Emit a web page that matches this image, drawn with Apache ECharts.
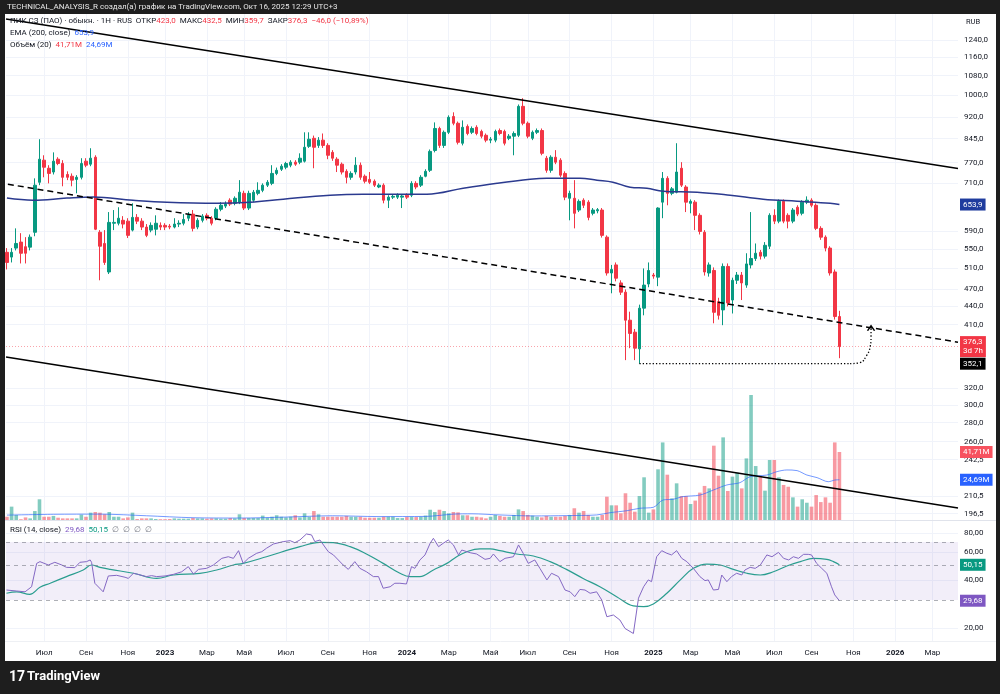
<!DOCTYPE html>
<html>
<head>
<meta charset="utf-8">
<script src="https://cdn.jsdelivr.net/npm/echarts@6/dist/echarts.min.js"></script>
<style>
  html, body { margin: 0; padding: 0; background: #1e1e1e; }
  #chart { width: 1000px; height: 694px; }
</style>
</head>
<body>
<div id="chart"></div>
<script>
// недельные свечи ПИК СЗ, первая неделя 2022-05-09
const firstWeek = '2022-05-09';

// [open, close, low, high]
const candles = [
  [543,522,508,552],[533,543,522,552],[552,562,547,596],[565,541,520,585],[555,541,520,576],
  [554,576,547,582],[587,705,578,724],[713,780,705,843],[777,756,727,792],[753,738,710,762],
  [742,774,735,801],[780,767,762,786],[767,727,702,777],[735,727,719,744],[730,719,702,738],
  [721,727,683,733],[727,767,721,783],[774,762,756,783],[765,783,759,814],[786,594,592,792],
  [587,556,487,592],[562,522,517,592],[503,610,499,635],[608,610,592,640],[608,620,603,647],
  [615,606,596,625],[613,580,574,620],[592,622,589,657],[622,613,606,630],[613,599,592,620],
  [599,580,576,606],[592,603,587,610],[594,608,580,627],[603,599,592,610],[603,599,592,608],
  [601,599,594,606],[599,606,596,620],[606,608,599,615],[608,617,603,630],[620,627,613,635],
  [630,596,589,640],[599,615,594,620],[615,625,610,630],[627,620,615,632],[620,608,603,625],
  [620,642,615,647],[642,652,637,660],[650,655,645,662],[665,655,650,670],[657,670,652,675],
  [660,686,655,719],[683,645,640,690],[645,683,640,690],[665,686,660,692],[683,691,678,713],
  [691,705,686,710],[705,713,700,719],[710,738,705,762],[738,747,733,755],[750,759,745,765],
  [756,767,750,772],[762,771,756,777],[771,765,760,777],[771,783,765,798],[774,817,770,866],
  [820,843,815,866],[846,817,753,855],[823,840,815,850],[840,823,815,862],[823,792,780,830],
  [801,783,775,808],[780,762,742,786],[765,742,735,770],[744,727,710,750],[727,738,720,744],
  [742,762,735,786],[762,727,720,770],[730,716,710,735],[721,713,708,742],[716,705,700,721],
  [700,705,697,710],[705,665,657,710],[665,673,645,678],[673,675,668,680],[673,678,668,683],
  [673,676,645,680],[678,673,668,683],[678,710,673,716],[710,700,694,716],[705,727,700,733],
  [730,744,727,750],[747,804,742,810],[807,879,801,900],[879,823,815,885],[823,866,815,872],
  [866,918,860,925],[921,897,890,936],[897,833,826,903],[830,883,823,907],[886,862,856,893],
  [866,879,860,886],[883,862,856,890],[869,853,846,875],[856,840,833,862],[840,843,830,850],
  [840,869,833,875],[872,862,856,879],[869,830,823,875],[846,853,840,860],[853,862,792,869],
  [856,958,850,965],[958,897,890,989],[897,853,846,903],[846,866,840,872],[866,872,860,879],
  [872,798,792,879],[783,747,740,790],[747,786,740,792],[786,771,765,808],[777,733,727,783],
  [738,673,665,744],[670,683,615,690],[670,632,596,719],[640,662,635,667],[665,652,645,670],
  [660,622,615,665],[632,640,627,645],[638,641,632,645],[640,580,575,645],[576,501,496,580],
  [501,508,463,517],[517,491,485,522],[482,465,460,487],[465,417,357,470],[417,396,374,431],
  [398,374,357,403],[373,437,352.1,443],[437,478,425,510],[480,506,474,522],[497,495,490,501],
  [493,645,476,647],[660,724,620,742],[724,683,652,730],[683,695,678,700],[686,742,683,830],
  [753,705,700,771],[700,660,635,705],[657,662,632,667],[660,627,592,665],[627,589,582,632],
  [587,503,496,592],[501,517,494,522],[506,430,412,512],[448,425,418,455],[434,514,409,520],
  [514,446,440,520],[451,487,428,492],[487,497,480,503],[497,482,451,503],[478,519,473,541],
  [517,530,510,635],[530,541,525,562],[543,535,528,548],[535,558,530,565],[556,627,550,632],
  [627,613,606,642],[613,662,608,667],[662,613,608,667],[627,613,596,632],[613,640,608,645],
  [647,630,625,652],[632,660,627,665],[660,665,655,675],[665,652,647,670],[652,596,592,657],
  [596,576,570,601],[576,552,545,580],[552,501,496,556],[503,423,418,508],[423,376.3,359.7,432.5]
];

// объём, млн
const volume = [
  2.0,8.2,3.1,0.5,1.6,1.0,5.5,12.7,2.0,2.0, 2.5,1.4,1.0,1.0,1.0,1.0,3.3,2.0,4.5,4.9,
  4.5,3.5,4.9,2.0,2.0,1.0,1.6,4.5,0.6,1.0, 1.0,1.0,0.6,0.5,0.5,0.6,1.0,0.8,0.8,0.8,
  1.2,1.0,1.0,0.8,1.0,1.0,0.8,0.8,1.2,1.0, 3.5,1.2,1.2,1.2,1.2,2.7,1.4,2.0,2.9,2.0,
  1.6,2.0,2.9,1.6,4.1,2.0,5.5,3.5,2.0,2.0, 2.0,2.0,2.0,2.5,2.0,2.0,2.0,1.4,1.4,1.4,
  1.4,2.0,2.0,2.0,1.2,1.2,1.8,1.8,1.8,2.0, 2.7,6.3,4.9,6.3,5.5,4.1,4.9,4.7,2.9,2.9,
  2.0,2.0,1.6,1.0,2.0,3.1,2.5,2.0,2.0,3.1, 6.5,5.5,3.1,2.7,2.0,1.6,2.5,2.0,2.0,2.0,
  2.5,3.1,7.2,4.5,5.5,3.1,2.0,2.0,3.1,14.3, 9.0,9.0,4.1,16.4,10.6,5.1,14.7,26.2,4.5,6.5,
  31.1,47.6,27.8,13.3,22.5,14.7,14.7,9.8,11.9,16.8, 20.9,19.4,45.6,27.2,50.7,17.8,26.6,29.0,19.4,37.8,
  76.7,33.1,26.6,18.0,36.8,36.8,26.2,21.5,20.4,13.9, 8.2,12.7,10.6,8.2,15.3,11.0,13.9,10.6,47.6,41.71
];

// [неделя, значение]
const volumeMa = [
  [0,3.0],[10,3.5],[20,3.6],[30,2.6],[40,1.4],[50,1.2],[60,1.8],[70,2.6],[80,2.1],[90,2.2],
  [96,3.6],[100,3.8],[106,3.1],[113.2,2.5],[120.4,2.7],[126.8,3.1],[129.7,4.5],[133.3,5.7],
  [136.1,7.2],[139,7.8],[141.1,12.3],[143.3,12.7],[145.2,14.3],[149,15.3],[151.9,18.4],
  [154.8,21.5],[157.6,22.9],[159.8,26.6],[163.4,27.6],[165.6,29.7],[167.7,30.7],[169.9,30.3],
  [172,27.6],[174.2,26.0],[176.6,23.5],[178,24.5],[179,24.69]
];

const ema200 = [
  [0,670.5],[5.6,664.9],[12.9,670.5],[18.5,673.2],[27.1,664.9],[34.4,659.7],[45.2,657.2],
  [52.3,659.7],[59.4,667.7],[69.5,678],[76.6,680.6],[90.3,680.6],[98.1,696.6],[105.4,710.3],
  [112.5,721.4],[116.1,724.2],[119.6,724.2],[123.2,724.2],[126.9,718.6],[130.3,713.1],
  [134,699.4],[137.6,696.6],[141.1,688.6],[148.4,686],[155.5,678],[162.6,667.7],
  [169.9,662.3],[177,657.2],[179,653.9]
];

const rsi = [
  [-0.1,34.7],[2.1,34.2],[3.9,33.8],[5.3,36.4],[6.4,51.2],[7.1,52.5],[8.9,50.0],[10.3,52.0],
  [11.8,50.0],[12.8,48.3],[14.6,48.1],[15.7,52.0],[17.1,52.5],[17.9,53.8],[18.2,52.0],[18.9,38.3],
  [20.7,33.8],[21.8,42.6],[23.6,43.0],[25.4,41.8],[26.1,41.1],[27.2,44.3],[28.2,43.6],[30.0,42.2],
  [31.1,42.8],[32.2,42.2],[34.0,42.6],[35.8,43.6],[37.6,45.3],[39.0,48.8],[40.1,43.8],[41.2,46.9],
  [42.9,47.6],[44.4,50.0],[46.2,55.1],[47.6,56.4],[48.7,55.1],[49.8,61.6],[50.8,51.2],[51.9,55.1],
  [53.7,59.3],[54.8,60.7],[55.8,63.8],[57.3,67.9],[59.4,70.3],[60.9,71.3],[61.9,69.2],[63.0,72.0],
  [64.4,78.6],[65.5,77.5],[66.2,70.3],[67.3,72.0],[69.1,60.7],[70.2,57.9],[72.3,50.0],[73.4,46.9],
  [74.8,52.5],[75.9,47.6],[77.3,45.3],[78.8,42.2],[79.9,42.2],[80.9,35.6],[82.4,36.4],[83.4,38.3],
  [84.5,38.3],[85.9,37.9],[87.0,48.8],[87.7,47.6],[88.8,53.8],[89.9,57.9],[91.0,68.6],[91.7,73.8],
  [92.8,65.3],[93.8,68.6],[94.9,72.0],[96.0,67.0],[97.1,57.9],[97.8,62.2],[99.6,59.8],[101.0,58.7],
  [102.8,54.3],[103.9,55.1],[104.6,58.7],[106.0,52.5],[107.1,55.1],[108.9,56.4],[110.0,67.0],
  [111.0,59.3],[112.1,51.2],[113.5,53.8],[114.6,47.6],[116.1,40.2],[117.1,44.3],[118.6,42.2],
  [120.0,34.7],[121.1,33.8],[122.1,31.5],[123.2,35.0],[124.3,34.7],[125.4,33.1],[126.8,33.8],
  [127.9,30.0],[129.0,23.5],[130.4,24.1],[131.8,22.4],[132.9,19.8],[134.7,18.4],[135.8,30.8],
  [136.9,36.4],[137.9,40.2],[138.6,39.2],[139.7,56.4],[140.8,61.6],[141.9,59.3],[142.9,57.9],
  [144.0,61.6],[145.1,55.1],[146.2,52.5],[147.6,47.6],[149.0,42.2],[150.1,39.8],[150.8,40.2],
  [151.9,34.7],[153.0,35.0],[153.7,43.2],[154.8,39.2],[155.8,42.2],[156.9,44.3],[158.0,43.2],
  [158.7,46.5],[159.8,48.3],[160.9,47.6],[162.0,50.0],[163.4,57.9],[164.5,56.4],[165.9,60.1],
  [167.0,55.1],[168.1,53.8],[169.1,56.4],[170.2,55.1],[171.3,58.4],[172.3,58.4],[173.0,57.9],
  [174.1,51.2],[175.2,47.6],[176.3,44.3],[177.3,36.4],[178.0,32.3],[179,29.68]
];

const rsiMa = [
  [-0.1,33.1],[2.1,33.8],[4.9,32.6],[7.1,36.1],[9.3,38.3],[12.8,42.2],[16.4,46.5],[18.2,50.0],
  [20.0,48.3],[22.2,46.9],[27.2,44.3],[32.2,41.1],[35.8,43.2],[41.5,44.3],[45.1,46.5],[48.7,50.0],
  [50.8,51.2],[55.8,56.4],[63.0,65.3],[67.3,69.6],[70.2,69.2],[73.8,65.3],[77.3,58.7],[80.9,51.2],
  [84.5,44.3],[86.7,42.2],[88.8,42.2],[91.7,46.5],[94.6,51.2],[96.7,56.4],[98.9,60.7],[101.7,63.2],
  [103.9,63.2],[106.0,61.6],[109.6,58.7],[113.2,57.0],[116.8,52.5],[120.3,46.9],[123.9,41.1],
  [127.5,36.4],[131.1,31.5],[134.7,27.5],[136.9,27.2],[139.0,28.3],[141.9,33.1],[144.8,40.2],
  [147.6,47.6],[150.5,50.7],[153.4,50.0],[156.2,46.9],[159.1,44.3],[162.0,43.2],[164.8,45.3],
  [167.7,49.3],[170.6,52.5],[173.4,55.1],[176.3,54.3],[177.7,52.5],[179,50.15]
];

// шкалы
const priceTicks = [1240,1160,1080,1000,920,845,770,710,590,550,510,470,440,410,320,300,280,260,242.5,210.5,196.5];
const rsiTicks = [20,40,60,80];
const monthTickDates = ['2022-07-04','2022-09-05','2022-11-07','2023-01-02','2023-03-06','2023-05-01',
  '2023-07-03','2023-09-04','2023-11-06','2024-01-01','2024-03-04','2024-05-06','2024-07-01',
  '2024-09-02','2024-11-04','2025-01-06','2025-03-03','2025-05-05','2025-07-07','2025-09-01',
  '2025-11-03','2026-01-05','2026-03-02'];
const monthTickLabels = ['Июл','Сен','Ноя','2023','Мар','Май','Июл','Сен','Ноя','2024','Мар','Май','Июл',
  'Сен','Ноя','2025','Мар','Май','Июл','Сен','Ноя','2026','Мар'];

// рисунки: [неделя, цена]
const upperChannel = [[-0.2,1345],[204.5,752.5]];
const lowerChannel = [[-0.2,361.3],[204.5,200.9]];
const midDashed = [[0.2,707.6],[204.5,382.8]];
const lowLevel = [[136,352.1],[181.3,352.1]];
const arrowPath = [[181.3,352.1],[183.4,353.5],[184.9,364.1],[185.6,375.5],[185.8,390.4],[185.8,404.3]];

const chart = echarts.init(document.getElementById('chart'));

const UP = '#089981', DOWN = '#f23645';
const FONT = 'Roboto, sans-serif';
const TXT = '#131722';
const X_MIN = -0.2, X_MAX = 204.5;
const weekIndex = d => (Date.parse(d) - Date.parse(firstWeek)) / 864e5 / 7;
const monthTicks = monthTickDates.map(weekIndex);
const comma = (v, n) => v.toFixed(n).replace('.', ',');
const last = candles[candles.length - 1];

function xAxis(gridIndex, labels) {
  return {
    type: 'value', gridIndex: gridIndex, min: X_MIN, max: X_MAX,
    axisLine: { show: false },
    axisTick: { show: false, customValues: monthTicks },
    splitLine: { show: gridIndex !== 1, lineStyle: { color: '#f0f3fa', width: 1 } },
    axisLabel: {
      show: labels, customValues: monthTicks, margin: 8,
      fontFamily: FONT, fontSize: 8, color: TXT,
      formatter: function (v) {
        let k = monthTicks.findIndex(t => Math.abs(t - v) < 1e-6);
        let s = monthTickLabels[k] || '';
        return /^\d{4}$/.test(s) ? '{b|' + s + '}' : s;
      },
      rich: { b: { fontWeight: 'bold', fontSize: 8, fontFamily: FONT, color: TXT } }
    }
  };
}

// подпись значения на правой шкале
function sideLabel(value, text, bg) {
  return {
    yAxis: value,
    label: {
      show: true, position: 'end', distance: 2, formatter: text,
      backgroundColor: bg, color: '#fff', fontFamily: FONT, fontSize: 8,
      padding: [2, 3, 1, 3], lineHeight: 9, opacity: 1
    }
  };
}
const hiddenLine = { symbol: 'none', silent: true, animation: false, lineStyle: { color: 'rgba(0,0,0,0)', width: 0 } };

const option = {
  backgroundColor: '#ffffff',
  animation: false,
  textStyle: { fontFamily: FONT },
  grid: [
    { left: 6, right: 42, top: 14, height: 506, outerBoundsMode: 'none' },
    { left: 6, right: 42, top: 380, height: 140, outerBoundsMode: 'none' },
    { left: 6, right: 42, top: 521, height: 120, outerBoundsMode: 'none' }
  ],
  xAxis: [xAxis(0, false), xAxis(1, false), xAxis(2, true)],
  yAxis: [
    {
      type: 'log', gridIndex: 0, position: 'right', min: 191.7, max: 1372,
      axisLine: { show: false },
      axisTick: { show: false, customValues: priceTicks },
      splitLine: { show: true, lineStyle: { color: '#f0f3fa', width: 1 } },
      axisLabel: { customValues: priceTicks, margin: 6, fontSize: 8, fontFamily: FONT, color: TXT,
        formatter: v => comma(v, 1) }
    },
    { type: 'value', gridIndex: 1, min: 0, max: 85.9, show: false, splitLine: { show: false } },
    {
      type: 'log', gridIndex: 2, position: 'right', min: 16.49, max: 95.0,
      axisLine: { show: false },
      axisTick: { show: false, customValues: rsiTicks },
      splitLine: { show: true, lineStyle: { color: '#f0f3fa', width: 1 } },
      axisLabel: { customValues: rsiTicks, margin: 6, fontSize: 8, fontFamily: FONT, color: TXT,
        formatter: v => comma(v, 2) }
    }
  ],
  series: [
    {
      type: 'candlestick', xAxisIndex: 0, yAxisIndex: 0, barWidth: 3, z: 3,
      data: candles.map((c, i) => [i, c[0], c[1], c[2], c[3]]),
      itemStyle: { color: UP, color0: DOWN, borderColor: UP, borderColor0: DOWN, borderWidth: 1 },
      markLine: {
        symbol: 'none', silent: true, animation: false,
        lineStyle: { color: 'rgba(242,54,69,0.45)', type: [1, 2], width: 1 },
        data: [sideLabel(last[1], comma(last[1], 1) + '\n3d 7h', DOWN)]
      }
    },
    {
      type: 'line', xAxisIndex: 0, yAxisIndex: 0, data: ema200, smooth: 0.4, symbol: 'none', z: 4,
      lineStyle: { color: '#2b3a8f', width: 1.5 },
      markLine: Object.assign({}, hiddenLine, { data: [sideLabel(653.9, '653,9', '#1f3c9e')] })
    },
    {
      type: 'line', xAxisIndex: 0, yAxisIndex: 0, data: upperChannel, symbol: 'none', z: 5,
      lineStyle: { color: '#000', width: 1.5 }
    },
    {
      type: 'line', xAxisIndex: 0, yAxisIndex: 0, data: lowerChannel, symbol: 'none', z: 5,
      lineStyle: { color: '#000', width: 1.5 }
    },
    {
      type: 'line', xAxisIndex: 0, yAxisIndex: 0, data: midDashed, symbol: 'none', z: 5,
      lineStyle: { color: '#000', width: 1.5, type: [6, 4] }
    },
    {
      type: 'line', xAxisIndex: 0, yAxisIndex: 0, data: lowLevel, symbol: 'none', z: 5,
      lineStyle: { color: '#000', width: 1.3, type: [1.3, 2] },
      markLine: Object.assign({}, hiddenLine, { data: [sideLabel(352.1, '352,1', '#000000')] })
    },
    {
      type: 'line', xAxisIndex: 0, yAxisIndex: 0, smooth: 0.5, z: 5,
      showSymbol: true, symbol: 'none',
      data: arrowPath.map((p, k) => k === arrowPath.length - 1
        ? { value: p, symbol: 'path://M0,6 L5,0 L10,6', symbolSize: [7, 5],
            itemStyle: { color: 'rgba(0,0,0,0)', borderColor: '#000', borderWidth: 1.3 } }
        : { value: p }),
      lineStyle: { color: '#000', width: 1.3, type: [1.3, 2] }
    },
    {
      type: 'bar', xAxisIndex: 1, yAxisIndex: 1, barWidth: 3.6, z: 1,
      data: volume.map((v, i) => ({
        value: [i, v],
        itemStyle: { color: candles[i][1] >= candles[i][0] ? 'rgba(8,153,129,0.5)' : 'rgba(242,54,69,0.5)' }
      })),
      markLine: Object.assign({}, hiddenLine, { data: [sideLabel(volume[volume.length - 1], '41,71M', '#f7525f')] })
    },
    {
      type: 'line', xAxisIndex: 1, yAxisIndex: 1, data: volumeMa, smooth: 0.3, symbol: 'none', z: 2,
      lineStyle: { color: 'rgba(41,98,255,0.65)', width: 1 },
      markLine: Object.assign({}, hiddenLine, { data: [sideLabel(24.69, '24,69M', '#2962ff')] })
    },
    {
      type: 'line', xAxisIndex: 2, yAxisIndex: 2, data: rsi, symbol: 'none', z: 4,
      lineStyle: { color: '#8468c4', width: 1 },
      markArea: {
        silent: true,
        itemStyle: { color: 'rgba(126,87,194,0.1)' },
        data: [[{ yAxis: 70 }, { yAxis: 30 }]]
      },
      markLine: {
        symbol: 'none', silent: true, animation: false,
        lineStyle: { color: 'rgba(120,123,134,0.6)', type: [4, 4], width: 1 },
        label: { show: false },
        data: [{ yAxis: 70 }, { yAxis: 50 }, { yAxis: 30 }]
      }
    },
    {
      type: 'line', xAxisIndex: 2, yAxisIndex: 2, data: rsiMa, smooth: 0.4, symbol: 'none', z: 3,
      lineStyle: { color: '#2a9d8f', width: 1.2 },
      markLine: Object.assign({}, hiddenLine, {
        data: [sideLabel(50.15, '50,15', UP), sideLabel(29.68, '29,68', '#7e57c2')]
      })
    }
  ],
  graphic: [
    { type: 'line', shape: { x1: 5, y1: 520.5, x2: 996, y2: 520.5 }, style: { stroke: '#e0e3eb', lineWidth: 1 }, z: 50 },
    { type: 'line', shape: { x1: 5, y1: 641.5, x2: 996, y2: 641.5 }, style: { stroke: '#eef0f4', lineWidth: 1 }, z: 50 },
    { type: 'rect', shape: { x: 0, y: 0, width: 1000, height: 14 }, style: { fill: '#1e1e1e' }, z: 100 },
    { type: 'rect', shape: { x: 0, y: 661, width: 1000, height: 33 }, style: { fill: '#1e1e1e' }, z: 100 },
    { type: 'rect', shape: { x: 0, y: 0, width: 5, height: 694 }, style: { fill: '#1e1e1e' }, z: 100 },
    { type: 'rect', shape: { x: 996, y: 0, width: 4, height: 694 }, style: { fill: '#1e1e1e' }, z: 100 },
    {
      type: 'text', x: 7, y: 7, z: 101,
      style: { text: 'TECHNICAL_ANALYSIS_R создал(а) график на TradingView.com, Окт 16, 2025 12:29 UTC+3',
        fill: '#e6e6e6', fontSize: 8, fontFamily: FONT, verticalAlign: 'middle' }
    },
    {
      type: 'text', x: 9, y: 677, z: 101,
      style: { text: '17', fill: '#ffffff', fontSize: 14, fontWeight: 'bold', fontFamily: FONT, verticalAlign: 'middle' }
    },
    {
      type: 'text', x: 27, y: 677, z: 101,
      style: { text: 'TradingView', fill: '#ffffff', fontSize: 13, fontWeight: 'bold', fontFamily: FONT, verticalAlign: 'middle' }
    },
    {
      type: 'text', x: 966, y: 22, z: 60,
      style: { text: 'RUB', fill: TXT, fontSize: 7.5, fontFamily: FONT, verticalAlign: 'middle' }
    },
    {
      type: 'text', x: 10, y: 21, z: 60,
      style: {
        text: '{d|ПИК СЗ (ПАО) · обыкн. · 1Н · RUS}  {d|ОТКР}{r|' + comma(last[0], 1) + '}  {d|МАКС}{r|' +
          comma(last[3], 1) + '}  {d|МИН}{r|' + comma(last[2], 1) + '}  {d|ЗАКР}{r|' + comma(last[1], 1) +
          '}  {r|−46,0 (−10,89%)}',
        verticalAlign: 'middle', fontSize: 8, fontFamily: FONT,
        rich: { d: { fill: TXT, fontSize: 8, fontFamily: FONT }, r: { fill: DOWN, fontSize: 8, fontFamily: FONT } }
      }
    },
    {
      type: 'text', x: 10, y: 33, z: 60,
      style: {
        text: '{d|EMA (200, close)}  {b|653,9}', verticalAlign: 'middle', fontSize: 8, fontFamily: FONT,
        rich: { d: { fill: TXT, fontSize: 8, fontFamily: FONT }, b: { fill: '#2962ff', fontSize: 8, fontFamily: FONT } }
      }
    },
    {
      type: 'text', x: 10, y: 45, z: 60,
      style: {
        text: '{d|Объём (20)}  {r|41,71M}  {b|24,69M}', verticalAlign: 'middle', fontSize: 8, fontFamily: FONT,
        rich: { d: { fill: TXT, fontSize: 8, fontFamily: FONT }, r: { fill: DOWN, fontSize: 8, fontFamily: FONT },
          b: { fill: '#2962ff', fontSize: 8, fontFamily: FONT } }
      }
    },
    {
      type: 'text', x: 10, y: 530, z: 60,
      style: {
        text: '{d|RSI (14, close)}  {p|29,68}  {g|50,15}  {n|∅  ∅  ∅  ∅}', verticalAlign: 'middle', fontSize: 8, fontFamily: FONT,
        rich: { d: { fill: TXT, fontSize: 8, fontFamily: FONT }, p: { fill: '#7e57c2', fontSize: 8, fontFamily: FONT },
          g: { fill: UP, fontSize: 8, fontFamily: FONT }, n: { fill: '#787b86', fontSize: 8, fontFamily: FONT } }
      }
    }
  ]
};

chart.setOption(option);
</script>
</body>
</html>
